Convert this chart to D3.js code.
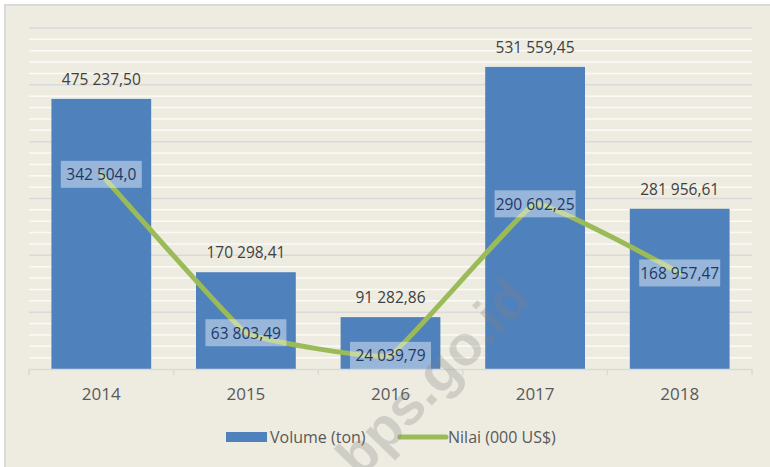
<!DOCTYPE html>
<html>
<head>
<meta charset="utf-8">
<script src="https://cdn.jsdelivr.net/npm/d3@7"></script>
<style>
  html, body { margin: 0; padding: 0; background: #ffffff; }
  svg { display: block; }
</style>
</head>
<body>
<svg id="chart" width="770" height="467"></svg>
<script>
const categories = ["2014", "2015", "2016", "2017", "2018"];
const volumeValues = [475237.50, 170298.41, 91282.86, 531559.45, 281956.61];
const nilaiValues = [342504.0, 63803.49, 24039.79, 290602.25, 168957.47];
const volumeLabels = ["475 237,50", "170 298,41", "91 282,86", "531 559,45", "281 956,61"];
const nilaiLabels = ["342 504,0", "63 803,49", "24 039,79", "290 602,25", "168 957,47"];
const seriesNames = ["Volume (ton)", "Nilai (000 US$)"];
const yMax = 600000;
const majorStep = 100000;
const minorStep = 20000;

const W = 770, H = 467;
const margin = { left: 29, right: 18, top: 28, bottom: 98 };
const svg = d3.select("#chart");
const font = "'Open Sans', sans-serif";

// frame
svg.append("rect").attr("x", 5).attr("y", 5).attr("width", W + 10).attr("height", H + 10)
  .attr("fill", "#eeece1").attr("stroke", "#d9d9d9").attr("stroke-width", 2);

const x = d3.scaleBand().domain(categories).range([margin.left, W - margin.right]).padding(0);
const y = d3.scaleLinear().domain([0, yMax]).range([H - margin.bottom, margin.top]);

const g = svg.append("g");

// minor gridlines
const minorTicks = d3.range(minorStep, yMax + 1, minorStep).filter(v => v % majorStep !== 0);
g.selectAll(".minor").data(minorTicks).join("line")
  .attr("x1", margin.left).attr("x2", W - margin.right)
  .attr("y1", d => y(d)).attr("y2", d => y(d))
  .attr("stroke", "#fafaf7").attr("stroke-width", 1.5);
// major gridlines
const majorTicks = d3.range(majorStep, yMax + 1, majorStep);
g.selectAll(".major").data(majorTicks).join("line")
  .attr("x1", margin.left).attr("x2", W - margin.right)
  .attr("y1", d => y(d)).attr("y2", d => y(d))
  .attr("stroke", "#d9d9d9").attr("stroke-width", 1.5);

// bars
const barW = x.bandwidth() * 0.69;
g.selectAll(".bar").data(volumeValues).join("rect")
  .attr("x", (d, i) => x(categories[i]) + (x.bandwidth() - barW) / 2)
  .attr("y", d => y(d))
  .attr("width", barW)
  .attr("height", d => y(0) - y(d))
  .attr("fill", "#4f81bd");

// x axis
const xAxis = d3.axisBottom(x).tickSize(0).tickPadding(0);
const ax = g.append("g").attr("transform", `translate(0,${y(0)})`).call(xAxis);
ax.select(".domain").attr("stroke", "#d9d9d9").attr("stroke-width", 1.5);
ax.selectAll(".tick text").attr("dy", null).attr("y", 31)
  .attr("font-family", font).attr("font-size", 17).attr("fill", "#595959");
const bounds = categories.map(c => x(c)).concat([x(categories[categories.length - 1]) + x.bandwidth()]);
g.selectAll(".tk").data(bounds).join("line")
  .attr("x1", d => d).attr("x2", d => d)
  .attr("y1", y(0)).attr("y2", y(0) + 6)
  .attr("stroke", "#d9d9d9").attr("stroke-width", 1.5);

// volume labels
g.selectAll(".vlab").data(volumeValues).join("text")
  .attr("x", (d, i) => x(categories[i]) + x.bandwidth() / 2)
  .attr("y", d => y(d) - 14)
  .attr("text-anchor", "middle")
  .attr("font-family", font).attr("font-size", 15.5).attr("fill", "#404040")
  .text((d, i) => volumeLabels[i]);

// line
const cx = (i) => x(categories[i]) + x.bandwidth() / 2;
const line = d3.line().x((d, i) => cx(i)).y(d => y(d)).curve(d3.curveCardinal.tension(0.75));
g.append("path").datum(nilaiValues).attr("d", line)
  .attr("fill", "none").attr("stroke", "#9bbb59").attr("stroke-width", 5)
  .attr("stroke-linejoin", "round").attr("stroke-linecap", "round");

// nilai labels with boxes
const nl = g.selectAll(".nlab").data(nilaiValues).join("g")
  .attr("transform", (d, i) => `translate(${cx(i)},${y(d)})`);
nl.append("rect").attr("x", -40.5).attr("y", -13.5).attr("width", 81).attr("height", 27)
  .attr("fill", "#ffffff").attr("fill-opacity", 0.42);
nl.append("text").attr("text-anchor", "middle").attr("y", 6)
  .attr("font-family", font).attr("font-size", 15.5).attr("fill", "#1f3864")
  .text((d, i) => nilaiLabels[i]);

// legend
const lg = svg.append("g").attr("transform", "translate(0,437)");
lg.append("rect").attr("x", 226).attr("y", -5).attr("width", 41).attr("height", 10).attr("fill", "#4f81bd");
lg.append("text").attr("x", 270).attr("y", 6).attr("font-family", font).attr("font-size", 16)
  .attr("fill", "#595959").text(seriesNames[0]);
lg.append("line").attr("x1", 400).attr("x2", 446).attr("y1", 0).attr("y2", 0)
  .attr("stroke", "#9bbb59").attr("stroke-width", 5).attr("stroke-linecap", "round");
lg.append("text").attr("x", 448).attr("y", 6).attr("font-family", font).attr("font-size", 16)
  .attr("fill", "#595959").text(seriesNames[1]);

// watermark
svg.append("text").attr("transform", "translate(436,380) rotate(-46)")
  .attr("text-anchor", "middle").attr("dominant-baseline", "middle")
  .attr("font-family", "'Liberation Sans', Arial, sans-serif").attr("font-weight", "bold")
  .attr("font-size", 56).attr("fill", "#808080").attr("fill-opacity", 0.28)
  .text("bps.go.id");
</script>
</body>
</html>
